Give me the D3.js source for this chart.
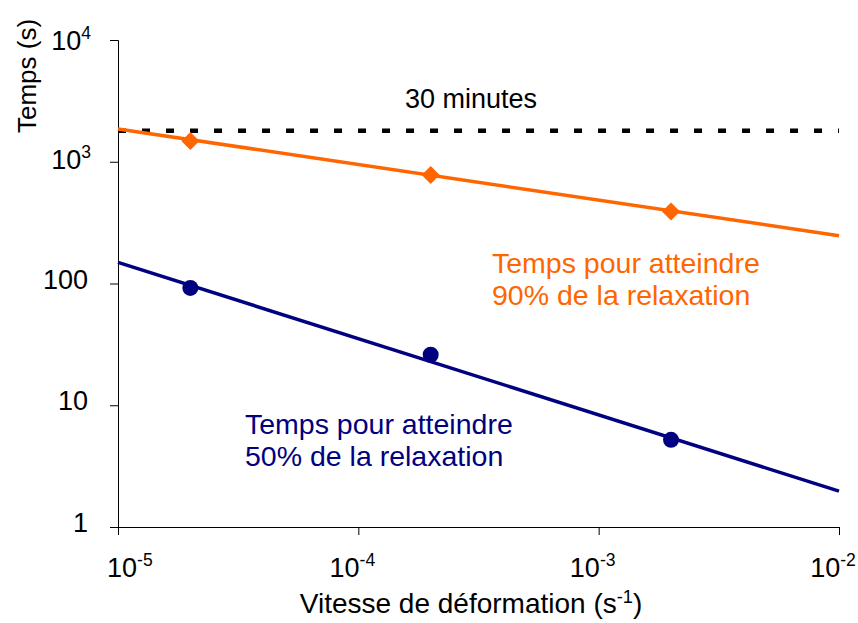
<!DOCTYPE html>
<html>
<head>
<meta charset="utf-8">
<script src="https://cdn.jsdelivr.net/npm/d3@7"></script>
<style>
  html, body { margin: 0; padding: 0; background: #fff; }
  svg { display: block; }
  text { font-family: "Liberation Sans", Arial, sans-serif; }
</style>
</head>
<body>
<svg id="chart" width="858" height="623"></svg>
<script>
// ---- data ----
const strainRates = [2e-5, 2e-4, 2e-3];
const t90 = [1480, 780, 390];
const t50 = [92, 26, 5.2];
const fitRange = [1e-5, 1e-2];
const fit90 = [1860, 247];
const fit50 = [149, 1.97];
const limit30min = 1800;
const limitLabel = "30 minutes";
const xTickValues = [1e-5, 1e-4, 1e-3, 1e-2];
const xTickExps = ["-5", "-4", "-3", "-2"];
const yTickValues = [1, 10, 100, 1000, 10000];
const yTickLabels = [["1", ""], ["10", ""], ["100", ""], ["10", "3"], ["10", "4"]];
const label90 = ["Temps pour atteindre", "90% de la relaxation"];
const label50 = ["Temps pour atteindre", "50% de la relaxation"];
const xTitle = "Vitesse de déformation (s";
const yTitle = "Temps (s)";

const orange = "#FF6600", navy = "#000080";
const svg = d3.select("#chart");
const x = d3.scaleLog().domain([1e-5, 1e-2]).range([118, 839]);
const y = d3.scaleLog().domain([1, 1e4]).range([527, 40]);
const FS = 27;

// axes
const xAxis = svg.append("g").attr("transform", "translate(0,527)")
  .call(d3.axisBottom(x).tickValues(xTickValues).tickSize(8).tickFormat(""));
const yAxis = svg.append("g").attr("transform", "translate(118,0)")
  .call(d3.axisLeft(y).tickValues(yTickValues).tickSize(8).tickFormat(""));
[xAxis, yAxis].forEach(a => {
  a.select(".domain").attr("stroke", "#000").attr("stroke-width", 1);
  a.selectAll(".tick line").attr("stroke", "#000").attr("stroke-width", 1);
});
svg.append("line").attr("x1", 110).attr("x2", 118).attr("y1", 527.5).attr("y2", 527.5).attr("stroke", "#000");

// x tick labels
xTickValues.forEach((v, i) => {
  const t = svg.append("text")
    .attr("x", i === 0 ? x(v) - 11 : x(v) - 6)
    .attr("y", 577)
    .attr("font-size", FS)
    .attr("text-anchor", i === 0 ? "start" : "middle");
  t.append("tspan").text("10");
  t.append("tspan").attr("dy", -11).attr("font-size", FS * 0.65).text(xTickExps[i]);
});

// y tick labels
yTickValues.forEach((v, i) => {
  const [base, exp] = yTickLabels[i];
  const t = svg.append("text")
    .attr("x", exp ? 91 : 88)
    .attr("y", y(v) + (exp ? 7 : 5) + (i === 4 ? 3 : 0))
    .attr("font-size", FS)
    .attr("text-anchor", "end");
  t.append("tspan").text(base);
  if (exp) t.append("tspan").attr("dy", -11).attr("font-size", FS * 0.65).text(exp);
});

// axis titles
const xt = svg.append("text").attr("x", 471).attr("y", 613).attr("font-size", 28).attr("text-anchor", "middle");
xt.append("tspan").text(xTitle);
xt.append("tspan").attr("dy", -10).attr("font-size", 28 * 0.65).text("-1");
xt.append("tspan").attr("dy", 10).text(")");

svg.append("text").attr("transform", "translate(36,76) rotate(-90)")
  .attr("font-size", 26).attr("text-anchor", "middle").text(yTitle);

// 30 minutes dashed line
svg.append("line")
  .attr("x1", x(fitRange[0])).attr("x2", x(fitRange[1]))
  .attr("y1", y(limit30min)).attr("y2", y(limit30min))
  .attr("stroke", "#000").attr("stroke-width", 4.5).attr("stroke-dasharray", "8,16");
svg.append("text").attr("x", 405).attr("y", 108).attr("font-size", FS).text(limitLabel);

// fitted lines
const line = d3.line().x(d => x(d[0])).y(d => y(d[1]));
svg.append("path").datum(fitRange.map((r, i) => [r, fit90[i]]))
  .attr("d", line).attr("fill", "none").attr("stroke", orange).attr("stroke-width", 3.5);
svg.append("path").datum(fitRange.map((r, i) => [r, fit50[i]]))
  .attr("d", line).attr("fill", "none").attr("stroke", navy).attr("stroke-width", 3.5);

// markers
svg.selectAll(".dia").data(strainRates.map((r, i) => [r, t90[i]])).enter()
  .append("path").attr("class", "dia")
  .attr("transform", d => `translate(${x(d[0])},${y(d[1])})`)
  .attr("d", "M0,-9L9,0L0,9L-9,0Z").attr("fill", orange);
svg.selectAll(".circ").data(strainRates.map((r, i) => [r, t50[i]])).enter()
  .append("circle").attr("class", "circ")
  .attr("cx", d => x(d[0])).attr("cy", d => y(d[1])).attr("r", 8).attr("fill", navy);

// annotation labels
label90.forEach((s, i) => svg.append("text").attr("x", 492).attr("y", 273 + i * 32)
  .attr("font-size", 28.5).attr("fill", orange).text(s));
label50.forEach((s, i) => svg.append("text").attr("x", 245).attr("y", 434 + i * 32)
  .attr("font-size", 28.5).attr("fill", navy).text(s));
</script>
</body>
</html>
